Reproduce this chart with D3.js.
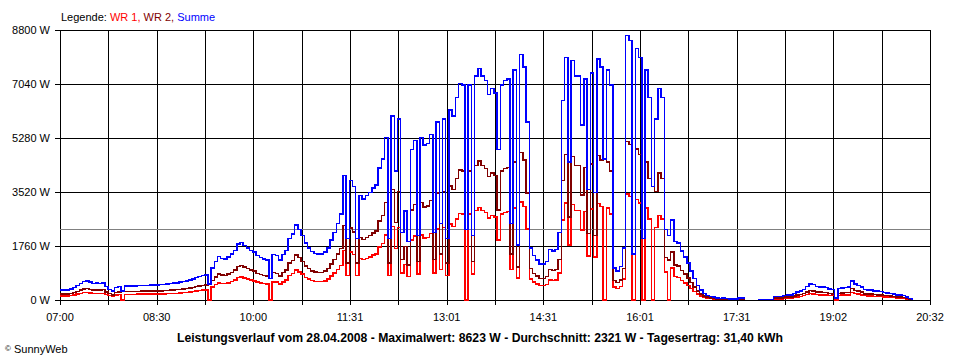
<!DOCTYPE html>
<html><head><meta charset="utf-8">
<script src="https://cdn.jsdelivr.net/npm/d3@7"></script>
<style>
body{margin:0;background:#fff}
svg{display:block}
text{font-family:"Liberation Sans",Arial,sans-serif;font-size:11px;fill:#000}
</style>
</head><body>
<svg id="c" width="960" height="360"></svg>
<script>
// ---- data ----
const startMinute = 7 * 60;        // 07:00
const endMinute = 20 * 60 + 32;    // 20:32
const stepMinutes = 3;             // sampling interval of the series
const xTickLabels = ["07:00","08:30","10:00","11:31","13:01","14:31","16:01","17:31","19:02","20:32"];
const yTickValues = [0, 1760, 3520, 5280, 7040, 8800];
const yTickLabels = ["0 W","1760 W","3520 W","5280 W","7040 W","8800 W"];
const averageW = 2321;
const seriesNames = ["WR 1", "WR 2", "Summe"];
const titleText = "Leistungsverlauf vom 28.04.2008 - Maximalwert: 8623 W - Durchschnitt: 2321 W - Tagesertrag: 31,40 kWh";

const summe = [
330,330,320,360,400,470,540,600,620,580,
540,550,540,560,440,350,290,400,440,300,
450,460,460,460,470,480,480,480,490,490,
490,500,510,520,530,550,560,580,600,620,
650,690,730,770,800,820,520,1050,1250,1410,
1350,1330,1400,1500,1620,1820,1880,1780,1700,1620,
1560,1450,1390,1340,1310,700,1480,1450,1300,1480,
1620,2000,2150,2450,2300,2100,1850,1700,1580,1520,
1500,1500,1560,1700,1950,2200,2500,2800,4050,2000,
3900,3700,2000,3400,3300,3400,3500,3650,3750,4300,
4600,5300,2000,6000,4200,5900,2200,2900,1900,4900,
5200,2100,5300,5050,5100,5400,2200,5800,2500,5900,
2000,6200,6000,6600,7050,7000,2300,7000,2100,7300,
7550,7300,7150,6700,6900,6750,4900,7000,7150,7200,
2500,7500,1800,8000,7600,5800,1700,1450,1300,1170,
1170,1260,1650,1600,1650,2200,6500,7900,4500,7800,
7300,7300,5700,7200,3600,7400,3500,7850,7600,4600,
7500,7000,1050,950,1100,1700,8623,8450,1500,8200,
7900,2000,7500,6600,3700,5900,6900,6600,2300,2100,
2600,1900,1850,1600,1400,1200,950,700,480,330,
220,150,120,100,60,50,60,50,40,40,
30,60,60,40,null,null,null,20,20,20,
20,20,110,110,110,150,160,170,220,260,
300,350,440,520,500,440,430,420,400,360,
340,60,370,390,400,420,620,520,480,430,
340,320,320,300,290,280,250,230,220,200,
170,160,140,100,50,10];

const wr1 = [
130,130,130,140,160,190,220,240,250,230,
220,220,220,220,180,140,120,160,180,0,
180,180,180,180,190,190,190,190,200,200,
200,200,200,210,210,220,220,230,240,250,
260,280,290,310,320,330,0,420,500,560,
540,530,560,600,650,730,750,710,680,650,
620,580,560,540,520,0,590,580,520,590,
650,800,860,980,920,840,740,680,630,610,
600,600,620,680,780,880,1000,1120,1620,800,
1560,1480,800,1360,1320,1360,1400,1460,1500,1720,
1840,2120,800,2400,1680,2360,880,1160,760,1960,
2080,840,2120,2020,2040,2160,880,2320,1000,2360,
800,2480,2400,2640,2820,2800,0,2800,840,2920,
3020,2920,2860,2680,2760,2700,1960,2800,2860,2880,
1000,3000,720,3200,3040,2320,680,580,520,470,
470,500,660,640,660,880,2600,3160,1800,3120,
2920,2920,2280,2880,1440,2960,1400,3140,3040,0,
3000,2800,420,380,440,680,3450,3380,0,3280,
3160,0,3000,2640,0,2360,2760,2640,920,0,
1040,760,740,640,560,480,380,280,190,130,
90,60,50,40,20,20,20,20,20,20,
10,20,20,20,null,null,null,10,10,10,
10,10,40,40,40,60,60,70,90,100,
120,140,180,210,200,180,170,170,160,140,
140,0,150,160,160,170,250,210,190,170,
140,130,130,120,120,110,100,90,90,80,
70,60,60,40,20,0];

const wr2 = [
200,200,190,220,240,280,320,360,370,350,
320,330,320,340,260,210,170,240,260,300,
270,280,280,280,280,290,290,290,290,290,
290,300,310,310,320,330,340,350,360,370,
390,410,440,460,480,490,520,630,750,850,
810,800,840,900,970,1090,1130,1070,1020,970,
940,870,830,800,790,700,890,870,780,890,
970,1200,1290,1470,1380,1260,1110,1020,950,910,
900,900,940,1020,1170,1320,1500,1680,2430,1200,
2340,2220,1200,2040,1980,2040,2100,2190,2250,2580,
2760,3180,1200,3600,2520,3540,1320,1740,1140,2940,
3120,1260,3180,3030,3060,3240,1320,3480,1500,3540,
1200,3720,3600,3960,4230,4200,2300,4200,1260,4380,
4530,4380,4290,4020,4140,4050,2940,4200,4290,4320,
1500,4500,1080,4800,4560,3480,1020,870,780,700,
700,760,990,960,990,1320,3900,4740,2700,4680,
4380,4380,3420,4320,2160,4440,2100,4710,4560,4600,
4500,4200,630,570,660,1020,5173,5070,1500,4920,
4740,2000,4500,3960,3700,3540,4140,3960,1380,1300,
1560,1140,1110,960,840,720,570,420,290,200,
130,90,70,60,40,30,40,30,20,20,
20,40,40,20,null,null,null,10,10,10,
10,10,70,70,70,90,100,100,130,160,
180,210,260,310,300,260,260,250,240,220,
200,60,220,230,240,250,370,310,290,260,
200,190,190,180,170,170,150,140,130,120,
100,100,80,60,30,10];

const seriesColors = ["#ff0000", "#800000", "#0000ff"];

// ---- chart ----
const svg = d3.select("#c");
const L = 60, R = 930, T = 30, B = 300;
const x = d3.scaleLinear().domain([startMinute, endMinute]).range([L, R]);
const y = d3.scaleLinear().domain([0, 8800]).range([B, T]);

const nGrid = 18;
const gridMinutes = d3.range(nGrid + 1).map(k => startMinute + k * (endMinute - startMinute) / nGrid);
const px = v => Math.round(v) + 0.5;

const g = svg.append("g");
// vertical grid lines (extend below as ticks)
g.selectAll("line.v").data(gridMinutes).join("line")
  .attr("x1", d => px(x(d))).attr("x2", d => px(x(d)))
  .attr("y1", T).attr("y2", B + 5)
  .attr("stroke", "#000").attr("stroke-width", 1).attr("shape-rendering", "crispEdges");
// horizontal grid lines (extend left as ticks)
g.selectAll("line.h").data(yTickValues).join("line")
  .attr("x1", L - 5).attr("x2", R)
  .attr("y1", d => px(y(d))).attr("y2", d => px(y(d)))
  .attr("stroke", "#000").attr("stroke-width", 1).attr("shape-rendering", "crispEdges");
// average line
g.append("line")
  .attr("x1", L).attr("x2", R)
  .attr("y1", px(y(averageW))).attr("y2", px(y(averageW)))
  .attr("stroke", "#808080").attr("stroke-width", 1).attr("shape-rendering", "crispEdges");

// y labels
g.selectAll("text.yl").data(yTickValues).join("text")
  .attr("x", 50).attr("y", d => y(d)).attr("dy", "0.35em")
  .attr("text-anchor", "end").text((d, i) => yTickLabels[i]);

// x labels (every second grid line)
const labelMinutes = gridMinutes.filter((d, k) => k % 2 === 0);
g.selectAll("text.xl").data(labelMinutes).join("text")
  .attr("x", d => x(d)).attr("y", 321)
  .attr("text-anchor", "middle").text((d, i) => xTickLabels[i]);

// series
const line = d3.line()
  .defined(d => d.v != null)
  .x(d => x(d.t)).y(d => y(d.v))
  .curve(d3.curveStepAfter);
const toPoints = arr => arr.map((v, i) => ({ t: startMinute + i * stepMinutes, v }));
[wr1, wr2, summe].forEach((arr, k) => {
  svg.append("path").datum(toPoints(arr))
    .attr("d", line).attr("fill", "none")
    .attr("stroke", seriesColors[k]).attr("stroke-width", 1.5)
    .attr("shape-rendering", "crispEdges");
});

// legend
const leg = svg.append("text").attr("x", 61).attr("y", 21);
leg.append("tspan").text("Legende: ");
leg.append("tspan").style("fill", seriesColors[0]).text(seriesNames[0] + ", ");
leg.append("tspan").style("fill", seriesColors[1]).text(seriesNames[1] + ", ");
leg.append("tspan").style("fill", seriesColors[2]).text(seriesNames[2]);

// title
svg.append("text").attr("x", 480).attr("y", 341.5).attr("text-anchor", "middle")
  .style("font-weight", "bold").style("font-size", "12.5px")
  .attr("textLength", 606).attr("lengthAdjust", "spacingAndGlyphs")
  .text(titleText);

// copyright
const cp = svg.append("text").attr("x", 5).attr("y", 353);
cp.append("tspan").style("font-size", "8px").attr("dy", "-2").text("©");
cp.append("tspan").attr("dy", "2").text(" SunnyWeb");
</script>
</body></html>
